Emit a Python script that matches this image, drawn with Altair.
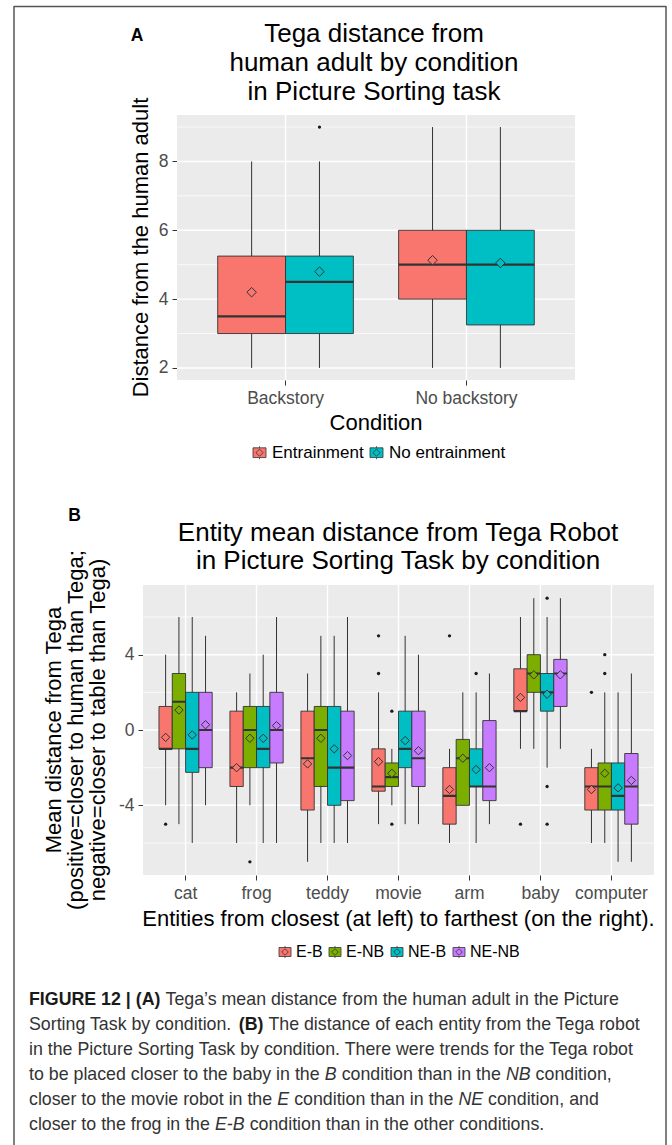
import altair as alt
import pandas as pd

FONT = "Liberation Sans"
W, H = 672, 1145

# ---------------- Panel A values ----------------
A_conditions = ["Backstory", "No backstory"]
A_groups = ["Entrainment", "No entrainment"]
A_colors = ["#F8766D", "#00BFC4"]
A_box_condition = ["Backstory", "Backstory", "No backstory", "No backstory"]
A_box_group = ["Entrainment", "No entrainment", "Entrainment", "No entrainment"]
A_low = [2, 2, 2, 2]
A_q1 = [3, 3, 4, 3.25]
A_median = [3.5, 4.5, 5, 5]
A_q3 = [5.25, 5.25, 6, 6]
A_high = [8, 8, 9, 9]
A_mean = [4.2, 4.8, 5.13, 5.05]
A_out_condition = ["Backstory"]
A_out_group = ["No entrainment"]
A_out_value = [9]
A_ticks = [2, 4, 6, 8]
A_minor = [3, 5, 7, 9]
A_domain = [1.65, 9.35]

# ---------------- Panel B values ----------------
B_entities = ["cat", "frog", "teddy", "movie", "arm", "baby", "computer"]
B_groups = ["E-B", "E-NB", "NE-B", "NE-NB"]
B_colors = ["#F8766D", "#7CAE00", "#00BFC4", "#C77CFF"]
B_low = [[-4, -5, -6, -4], [-6, -4, -6, -6], [-7, -6, -6, -6], [-5, -4, -5, -5],
         [-6, -4, -6, -5], [-1, -1, -2, -1], [-6, -6, -7, -7]]
B_q1 = [[-1, -1, -2.25, -2], [-3, -2, -2, -1.75], [-4.25, -3, -4, -3.75], [-3.25, -3, -2, -3],
        [-5, -4, -3, -3.75], [1, 2, 1, 1.25], [-4.25, -4.25, -4.25, -5]]
B_median = [[-1, 1.5, -1, 0], [-2, 0, -1, 0], [-1.5, 0, -2, -2], [-3, -2.5, -1, -1.5],
            [-3.5, -1.5, -3, -3], [1, 3, 2, 3], [-3, -3, -3.5, -3]]
B_q3 = [[1.25, 3, 2, 2], [1, 1.25, 1.25, 2], [1, 1.25, 1.25, 1], [-1, -1.75, 1, 1],
        [-2, -0.5, -1, 0.5], [3.25, 4, 3, 3.75], [-2, -1.75, -1.75, -1.25]]
B_high = [[4, 6, 6, 5], [2, 3, 4, 6], [3, 5, 5, 6], [2, -1, 5, 4],
          [-1, 2, 2, 3], [6, 7, 6, 7], [-1, 2, 2, 3]]
B_mean = [[-0.39, 1.06, -0.26, 0.28], [-2.0, -0.44, -0.44, 0.23], [-1.8, -0.44, -1.0, -1.36],
          [-1.68, -2.3, -0.56, -1.1], [-3.16, -1.5, -2.1, -2.0], [1.73, 2.93, 1.9, 2.93],
          [-3.16, -2.3, -3.07, -2.68]]
B_out_entity = ["cat", "frog", "movie", "movie", "movie", "movie", "arm", "arm",
                "baby", "baby", "baby", "baby", "computer", "computer", "computer"]
B_out_group = ["E-B", "E-NB", "E-B", "E-B", "E-NB", "E-NB", "E-B", "NE-B",
               "E-B", "NE-B", "NE-B", "NE-B", "E-B", "E-NB", "E-NB"]
B_out_value = [-5, -7, 5, 3, 1, -5, 5, 3, -5, 7, -3, -5, 2, 4, 3]
B_ticks = [-4, 0, 4]
B_minor = [-6, -2, 2, 6]
B_domain = [-7.7, 7.7]

# ---------------- Texts ----------------
A_title = ["Tega distance from", "human adult by condition", "in Picture Sorting task"]
A_ytitle = "Distance from the human adult"
A_xtitle = "Condition"
B_title = ["Entity mean distance from Tega Robot", "in Picture Sorting Task by condition"]
B_ytitle = ["Mean distance from Tega", "(positive=closer to human than Tega;",
            "negative=closer to table than Tega)"]
B_xtitle = "Entities from closest (at left) to farthest (on the right)."
caption_lines = [
    [("FIGURE 12 | (A)", "b"), (" Tega\u2019s mean distance from the human adult in the Picture", "r")],
    [("Sorting Task by condition. ", "r"), ("(B)", "b"), (" The distance of each entity from the Tega robot", "r")],
    [("in the Picture Sorting Task by condition. There were trends for the Tega robot", "r")],
    [("to be placed closer to the baby in the ", "r"), ("B", "i"), (" condition than in the ", "r"),
     ("NB", "i"), (" condition,", "r")],
    [("closer to the movie robot in the ", "r"), ("E", "i"), (" condition than in the ", "r"),
     ("NE", "i"), (" condition, and", "r")],
    [("closer to the frog in the ", "r"), ("E-B", "i"), (" condition than in the other conditions.", "r")],
]

# ---------------- build tables ----------------
boxA = pd.DataFrame({"cond": A_box_condition, "grp": A_box_group, "lo": A_low, "q1": A_q1,
                     "med": A_median, "q3": A_q3, "hi": A_high, "mean": A_mean})
outA = pd.DataFrame({"cond": A_out_condition, "grp": A_out_group, "val": A_out_value})
rows = []
for i, e in enumerate(B_entities):
    for j, g in enumerate(B_groups):
        rows.append(dict(cond=e, grp=g, lo=B_low[i][j], q1=B_q1[i][j], med=B_median[i][j],
                         q3=B_q3[i][j], hi=B_high[i][j], mean=B_mean[i][j]))
boxB = pd.DataFrame(rows)
outB = pd.DataFrame({"cond": B_out_entity, "grp": B_out_group, "val": B_out_value})

ONE = pd.DataFrame({"k": [0]})
DARK = "#333333"
KEY = "M-1,-0.75H1V0.75H-1Z M0,-0.75V-1 M0,0.75V1 M-0.55,0L0,-0.55L0.55,0L0,0.55Z"


def panel(box, out, cats, groups, colors, x0, x1, y0, y1, dom, ticks, minor, legend, mean_size):
    xs = alt.Scale(domain=cats, range=[x0, x1], paddingInner=0.25, paddingOuter=0.225)
    xo = alt.Scale(domain=groups, paddingInner=0, paddingOuter=0)
    ys = alt.Scale(domain=dom, range=[y1, y0], nice=False, zero=False)
    fs = alt.Scale(domain=groups, range=colors)
    xaxis = alt.Axis(orient="bottom", offset=y1 - H, domain=False, grid=False, tickSize=5,
                     tickColor=DARK, tickWidth=1, labelFont=FONT, labelFontSize=17.5,
                     labelColor="#4D4D4D", labelPadding=4, labelAngle=0, title=None)
    yaxis = alt.Axis(orient="left", offset=-x0, values=ticks, domain=False, grid=False,
                     tickSize=5, tickColor=DARK, tickWidth=1, labelFont=FONT,
                     labelFontSize=17.5, labelColor="#4D4D4D", labelPadding=4,
                     labelExpr="'' + datum.value", title=None)
    X = alt.X("cond:N", scale=xs, axis=xaxis)
    XO = alt.XOffset("grp:N", scale=xo)
    bg = alt.Chart(ONE).mark_rect(fill="#EBEBEB").encode(
        x=alt.value(x0), x2=alt.value(x1), y=alt.value(y0), y2=alt.value(y1))
    gmin = alt.Chart(pd.DataFrame({"v": minor})).mark_rule(color="white", strokeWidth=0.7).encode(
        y=alt.Y("v:Q", scale=ys, axis=yaxis), x=alt.value(x0), x2=alt.value(x1))
    gmaj = alt.Chart(pd.DataFrame({"v": ticks})).mark_rule(color="white", strokeWidth=1.4).encode(
        y=alt.Y("v:Q", scale=ys, axis=yaxis), x=alt.value(x0), x2=alt.value(x1))
    gx = alt.Chart(pd.DataFrame({"cond": cats})).mark_rule(color="white", strokeWidth=1.4).encode(
        x=X, y=alt.value(y0), y2=alt.value(y1))
    whisk = alt.Chart(box).mark_rule(color=DARK, strokeWidth=1).encode(
        x=X, xOffset=XO, y=alt.Y("lo:Q", scale=ys, axis=yaxis), y2="hi:Q")
    boxes = alt.Chart(box).mark_bar(stroke=DARK, strokeWidth=0.9, opacity=1).encode(
        x=X, xOffset=XO, y=alt.Y("q1:Q", scale=ys, axis=yaxis), y2="q3:Q",
        fill=alt.Fill("grp:N", scale=fs, legend=legend))
    med = alt.Chart(box).mark_bar(fill=DARK, stroke=DARK, strokeWidth=2.2).encode(
        x=X, xOffset=XO, y=alt.Y("med:Q", scale=ys, axis=yaxis), y2="med:Q")
    mean = alt.Chart(box).mark_point(shape="diamond", filled=True, size=mean_size, stroke=DARK,
                                     strokeWidth=1, opacity=1).encode(
        x=X, xOffset=XO, y=alt.Y("mean:Q", scale=ys, axis=yaxis),
        fill=alt.Fill("grp:N", scale=fs, legend=legend))
    outl = alt.Chart(out).mark_circle(color="#1a1a1a", size=11, opacity=1).encode(
        x=X, xOffset=XO, y=alt.Y("val:Q", scale=ys, axis=yaxis))
    return alt.layer(bg, gmin, gmaj, gx, whisk, boxes, med, mean, outl)


legA = alt.Legend(orient="none", legendX=251, legendY=444, direction="horizontal", title=None,
                  symbolType=KEY, symbolSize=169, symbolStrokeColor=DARK, symbolStrokeWidth=0.8,
                  labelFont=FONT, labelFontSize=17, labelColor="black", labelOffset=4,
                  columnPadding=4, padding=0)
legB = alt.Legend(orient="none", legendX=277, legendY=944, direction="horizontal", title=None,
                  symbolType=KEY, symbolSize=144, symbolStrokeColor=DARK, symbolStrokeWidth=0.8,
                  labelFont=FONT, labelFontSize=16, labelColor="black", labelOffset=3,
                  columnPadding=4, padding=0)

panelA = panel(boxA, outA, A_conditions, A_groups, A_colors, 177, 575, 115, 380, A_domain,
               A_ticks, A_minor, legA, 90)
panelB = panel(boxB, outB, B_entities, B_groups, B_colors, 143, 654, 585, 875, B_domain,
               B_ticks, B_minor, legB, 70)


def label(text, x, y, size, weight="normal", style="normal", color="black", angle=0,
          align="center", baseline="alphabetic"):
    props = dict(text=text, font=FONT, fontSize=size, fontWeight=weight, fontStyle=style,
                 color=color, align=align, baseline=baseline)
    if angle:
        props["angle"] = angle
    return alt.Chart(ONE).mark_text(**props).encode(x=alt.value(x), y=alt.value(y))


texts = []
texts.append(label("A", 137, 41, 17.5, weight="bold"))
texts.append(label("B", 74.5, 521, 17.5, weight="bold"))
for k, line in enumerate(A_title):
    texts.append(label(line, 374, 42 + 29 * k, 26))
for k, line in enumerate(B_title):
    texts.append(label(line, 398, 541 + 28 * k, 26))
texts.append(label(A_ytitle, 148, 247.5, 22, angle=270))
for k, line in enumerate(B_ytitle):
    texts.append(label(line, 61 + 22 * k, 730, 22, angle=270))
texts.append(label(A_xtitle, 376, 430, 22))
texts.append(label(B_xtitle, 398.5, 926, 22))

# caption, laid out with Helvetica/Arial advance widths (Liberation Sans is metric compatible)
REG = {' ': 278, '!': 278, '(': 333, ')': 333, ',': 278, '-': 333, '.': 278, ':': 278, ';': 278,
       '|': 260, "'": 191, '\u2019': 222, '=': 584,
       'A': 667, 'B': 667, 'C': 722, 'D': 722, 'E': 667, 'F': 611, 'G': 778, 'H': 722, 'I': 278,
       'J': 500, 'K': 667, 'L': 556, 'M': 833, 'N': 722, 'O': 778, 'P': 667, 'Q': 778, 'R': 722,
       'S': 667, 'T': 611, 'U': 722, 'V': 667, 'W': 944, 'X': 667, 'Y': 667, 'Z': 611,
       'a': 556, 'b': 556, 'c': 500, 'd': 556, 'e': 556, 'f': 278, 'g': 556, 'h': 556, 'i': 222,
       'j': 222, 'k': 500, 'l': 222, 'm': 833, 'n': 556, 'o': 556, 'p': 556, 'q': 556, 'r': 333,
       's': 500, 't': 278, 'u': 556, 'v': 500, 'w': 722, 'x': 500, 'y': 500, 'z': 500}
BOLD = {' ': 278, '(': 333, ')': 333, '|': 280, 'A': 722, 'B': 722, 'E': 667, 'F': 611, 'G': 778,
        'I': 278, 'R': 722, 'U': 722}
CAP_SIZE = 17.8


def adv(s, style):
    table = BOLD if style == "b" else REG
    return sum(table.get(c, 556) for c in s) * CAP_SIZE / 1000.0


for k, line in enumerate(caption_lines):
    x = 29.0
    yb = 1005 + 25 * k
    for seg, style in line:
        lead = len(seg) - len(seg.lstrip(" "))
        x += adv(" " * lead, style)
        body = seg.strip(" ")
        texts.append(label(body, round(x, 2), yb, CAP_SIZE,
                           weight="bold" if style == "b" else "normal",
                           style="italic" if style == "i" else "normal",
                           color="#1a1a1a" if style == "b" else "#333333", align="left"))
        x += adv(body, style)
        trail = len(seg) - len(seg.rstrip(" "))
        x += adv(" " * trail, style)

# figure frame
FR = "#555555"
frame = [
    alt.Chart(ONE).mark_rule(color=FR, strokeWidth=1.5).encode(
        x=alt.value(14), x2=alt.value(666), y=alt.value(6.5)),
    alt.Chart(ONE).mark_rule(color=FR, strokeWidth=1.5).encode(
        x=alt.value(14), y=alt.value(6), y2=alt.value(H)),
    alt.Chart(ONE).mark_rule(color=FR, strokeWidth=1.5).encode(
        x=alt.value(666), y=alt.value(6), y2=alt.value(H)),
]

chart = alt.layer(*frame, panelA, panelB, *texts).resolve_scale(
    x="independent", y="independent", xOffset="independent", fill="independent"
).resolve_axis(x="independent", y="independent").resolve_legend(fill="independent").properties(
    width=W, height=H, padding=0, autosize=alt.AutoSizeParams(type="none")
).configure_view(strokeWidth=0)

chart.save("out.html", embed_options={"renderer": "svg", "actions": False})
